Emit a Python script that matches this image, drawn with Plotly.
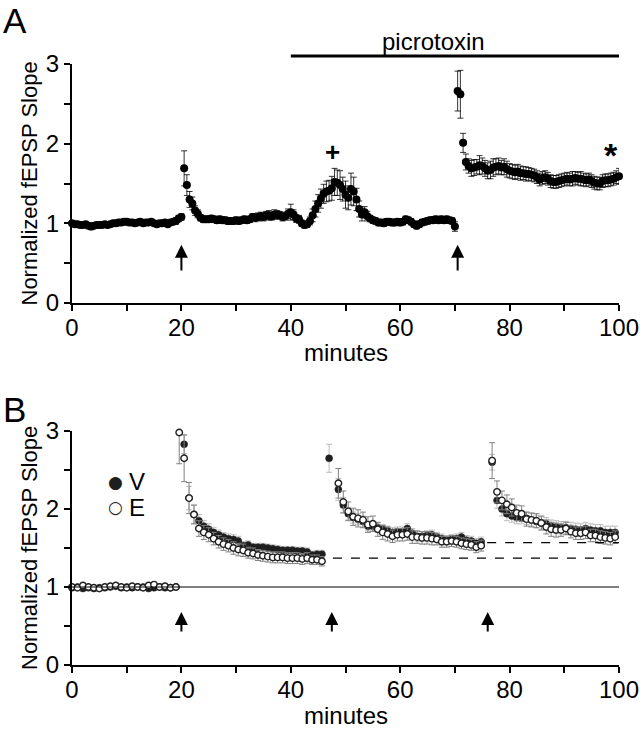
import plotly.graph_objects as go

FONT = "Liberation Sans, Arial, sans-serif"

# ---------------- Panel A data (0.5-min sampling) ----------------
a_minutes = [i * 0.5 for i in range(201)]
a_slope = [
    # 0 - 19.5
    1.00, 0.99, 0.99, 0.98, 0.98, 0.99, 0.97, 0.96, 0.97, 0.98,
    0.98, 0.98, 0.99, 0.98, 0.99, 1.00, 1.00, 1.01, 1.01, 1.02,
    1.02, 1.01, 1.01, 1.00, 1.01, 1.02, 1.00, 1.01, 1.01, 1.02,
    1.00, 0.99, 1.00, 1.00, 1.01, 0.99, 1.01, 1.02, 1.03, 1.06,
    # 20 - 24
    1.08, 1.69, 1.48, 1.30, 1.25, 1.16, 1.12, 1.07, 1.05,
    # 24.5 - 32.5
    1.05, 1.05, 1.06, 1.05, 1.04, 1.05, 1.04, 1.04, 1.03, 1.03,
    1.03, 1.04, 1.03, 1.04, 1.05, 1.04, 1.05,
    # 33 - 42.5
    1.08, 1.07, 1.08, 1.09, 1.08, 1.10, 1.10, 1.09, 1.11, 1.11,
    1.10, 1.08, 1.09, 1.12, 1.14, 1.11, 1.06, 1.05, 1.00, 0.98,
    # 43 - 54.5
    0.99, 1.03, 1.10, 1.18, 1.25, 1.31, 1.37, 1.40, 1.41, 1.44,
    1.52, 1.51, 1.48, 1.43, 1.36, 1.32, 1.43, 1.40, 1.30, 1.18,
    1.11, 1.14, 1.09, 1.06,
    # 55 - 70
    1.04, 1.03, 1.01, 1.01, 1.00, 1.02, 1.02, 1.01, 1.01, 1.02,
    1.01, 1.02, 1.05, 1.04, 1.02, 0.99, 0.97, 0.99, 1.01, 1.02,
    1.03, 1.04, 1.04, 1.05, 1.04, 1.05, 1.04, 1.05, 1.04, 1.03,
    0.96,
    # 70.5 - 100
    2.66, 2.62, 2.01, 1.77, 1.72, 1.69, 1.70, 1.71, 1.73, 1.72,
    1.69, 1.66, 1.67, 1.70, 1.71, 1.72, 1.70, 1.71, 1.68, 1.66,
    1.65, 1.64, 1.65, 1.63, 1.63, 1.62, 1.62, 1.61, 1.60, 1.58,
    1.55, 1.57, 1.58, 1.56, 1.53, 1.52, 1.52, 1.53, 1.54, 1.55,
    1.56, 1.55, 1.56, 1.57, 1.56, 1.56, 1.55, 1.54, 1.55, 1.53,
    1.51, 1.50, 1.50, 1.53, 1.54, 1.54, 1.55, 1.56, 1.58, 1.59,
]
a_sem = [
    0.03, 0.03, 0.03, 0.03, 0.03, 0.03, 0.03, 0.04, 0.03, 0.03,
    0.03, 0.03, 0.03, 0.03, 0.03, 0.03, 0.03, 0.03, 0.03, 0.03,
    0.03, 0.03, 0.03, 0.03, 0.03, 0.03, 0.03, 0.03, 0.03, 0.03,
    0.03, 0.03, 0.03, 0.03, 0.03, 0.03, 0.03, 0.03, 0.04, 0.04,
    0.04, 0.22, 0.13, 0.10, 0.08, 0.06, 0.05, 0.04, 0.04,
    0.04, 0.04, 0.04, 0.04, 0.04, 0.04, 0.04, 0.04, 0.04, 0.04,
    0.04, 0.04, 0.04, 0.04, 0.04, 0.04, 0.04,
    0.04, 0.05, 0.05, 0.05, 0.05, 0.05, 0.06, 0.05, 0.06, 0.05,
    0.05, 0.05, 0.05, 0.06, 0.10, 0.06, 0.05, 0.05, 0.04, 0.04,
    0.04, 0.05, 0.08, 0.10, 0.11, 0.12, 0.12, 0.13, 0.13, 0.15,
    0.17, 0.16, 0.18, 0.15, 0.17, 0.15, 0.20, 0.18, 0.14, 0.10,
    0.08, 0.07, 0.06, 0.04,
    0.04, 0.04, 0.04, 0.04, 0.04, 0.04, 0.04, 0.04, 0.04, 0.04,
    0.04, 0.04, 0.04, 0.04, 0.04, 0.04, 0.04, 0.04, 0.04, 0.04,
    0.04, 0.04, 0.04, 0.04, 0.04, 0.04, 0.04, 0.04, 0.04, 0.04,
    0.06,
    0.25, 0.30, 0.12, 0.10, 0.09, 0.10, 0.10, 0.09, 0.12, 0.10,
    0.10, 0.10, 0.11, 0.11, 0.10, 0.10, 0.09, 0.10, 0.10, 0.09,
    0.09, 0.09, 0.09, 0.09, 0.08, 0.09, 0.08, 0.08, 0.08, 0.08,
    0.08, 0.08, 0.08, 0.08, 0.08, 0.08, 0.08, 0.08, 0.08, 0.08,
    0.08, 0.08, 0.09, 0.08, 0.08, 0.09, 0.08, 0.08, 0.08, 0.08,
    0.08, 0.08, 0.08, 0.08, 0.08, 0.08, 0.08, 0.08, 0.08, 0.10,
]
a_tbs_minutes = [20, 70.5]
a_drug_start, a_drug_end = 40, 100

# ---------------- Panel B data ----------------
b_v_minutes = [
    0, 1, 2, 3, 4, 5, 6, 7, 8, 9, 10, 11, 12, 13, 14, 15, 16, 17, 18, 19,
    20.5, 21.4, 22.3, 23.2, 24.1, 25.0, 25.9, 26.8, 27.7, 28.6,
    29.5, 30.4, 31.3, 32.2, 33.1, 34.0, 34.9, 35.8, 36.7, 37.6,
    38.5, 39.4, 40.3, 41.2, 42.1, 43.0, 43.9, 44.8, 45.7,
    47.0, 48.7, 49.6, 50.5, 51.4, 52.3, 53.2, 54.1, 55.0, 55.9,
    56.8, 57.7, 58.6, 59.5, 60.4, 61.3, 62.2, 63.1, 64.0, 64.9,
    65.8, 66.7, 67.6, 68.5, 69.4, 70.3, 71.2, 72.1, 73.0, 73.9, 74.8,
    76.8, 77.7, 78.6, 79.5, 80.4, 81.3, 82.2, 83.1, 84.0, 84.9,
    85.8, 86.7, 87.6, 88.5, 89.4, 90.3, 91.2, 92.1, 93.0, 93.9,
    94.8, 95.7, 96.6, 97.5, 98.4, 99.3,
]
b_v_slope = [
    0.99, 1.00, 0.98, 0.99, 0.98, 0.99, 0.99, 1.00, 1.01, 0.99,
    1.00, 0.99, 1.00, 1.00, 0.98, 0.99, 1.00, 0.99, 0.99, 1.00,
    2.83, 2.14, 1.93, 1.85, 1.78, 1.74, 1.70, 1.67, 1.64, 1.62,
    1.61, 1.59, 1.53, 1.54, 1.51, 1.51, 1.51, 1.50, 1.49, 1.48,
    1.47, 1.47, 1.47, 1.46, 1.46, 1.45, 1.41, 1.42, 1.42,
    2.65, 2.25, 2.05, 1.94, 1.89, 1.87, 1.84, 1.78, 1.78, 1.76,
    1.74, 1.72, 1.70, 1.71, 1.71, 1.75, 1.69, 1.65, 1.65, 1.66,
    1.67, 1.64, 1.62, 1.60, 1.61, 1.62, 1.64, 1.60, 1.59, 1.56, 1.58,
    2.60, 2.11, 2.00, 1.94, 1.91, 1.89, 1.89, 1.88, 1.86, 1.84,
    1.82, 1.81, 1.78, 1.77, 1.76, 1.76, 1.75, 1.74, 1.73, 1.75,
    1.73, 1.72, 1.72, 1.70, 1.70, 1.70,
]
b_v_sem = [
    0.02, 0.02, 0.02, 0.02, 0.02, 0.02, 0.02, 0.02, 0.02, 0.02,
    0.02, 0.02, 0.02, 0.02, 0.02, 0.02, 0.02, 0.02, 0.02, 0.02,
    0.12, 0.15, 0.12, 0.08, 0.07, 0.07, 0.06, 0.06, 0.06, 0.06,
    0.06, 0.06, 0.05, 0.05, 0.05, 0.05, 0.05, 0.05, 0.05, 0.05,
    0.05, 0.05, 0.05, 0.05, 0.05, 0.05, 0.05, 0.05, 0.05,
    0.18, 0.14, 0.10, 0.08, 0.07, 0.07, 0.07, 0.06, 0.06, 0.06,
    0.06, 0.06, 0.06, 0.06, 0.06, 0.06, 0.06, 0.06, 0.06, 0.06,
    0.06, 0.06, 0.06, 0.06, 0.06, 0.06, 0.06, 0.06, 0.06, 0.06, 0.06,
    0.10, 0.10, 0.09, 0.09, 0.08, 0.08, 0.08, 0.08, 0.08, 0.08,
    0.08, 0.08, 0.08, 0.08, 0.08, 0.08, 0.08, 0.08, 0.08, 0.08,
    0.08, 0.08, 0.08, 0.08, 0.08, 0.08,
]
b_e_minutes = [
    0, 1, 2, 3, 4, 5, 6, 7, 8, 9, 10, 11, 12, 13, 14, 15, 16, 17, 18, 19,
    19.6, 20.5, 21.4, 22.3, 23.2, 24.1, 25.0, 25.9, 26.8, 27.7,
    28.6, 29.5, 30.4, 31.3, 32.2, 33.1, 34.0, 34.9, 35.8, 36.7,
    37.6, 38.5, 39.4, 40.3, 41.2, 42.1, 43.0, 43.9, 44.8, 45.7,
    48.7, 49.6, 50.5, 51.4, 52.3, 53.2, 54.1, 55.0, 55.9, 56.8,
    57.7, 58.6, 59.5, 60.4, 61.3, 62.2, 63.1, 64.0, 64.9, 65.8,
    66.7, 67.6, 68.5, 69.4, 70.3, 71.2, 72.1, 73.0, 73.9, 74.8,
    76.8, 77.7, 78.6, 79.5, 80.4, 81.3, 82.2, 83.1, 84.0, 84.9,
    85.8, 86.7, 87.6, 88.5, 89.4, 90.3, 91.2, 92.1, 93.0, 93.9,
    94.8, 95.7, 96.6, 97.5, 98.4, 99.3,
]
b_e_slope = [
    1.00, 0.99, 1.02, 1.00, 0.99, 0.98, 1.00, 1.01, 1.02, 1.00,
    0.99, 1.01, 1.00, 0.99, 1.02, 1.03, 1.00, 1.01, 0.99, 1.00,
    2.98, 2.65, 2.14, 1.93, 1.75, 1.70, 1.67, 1.62, 1.58, 1.55,
    1.53, 1.50, 1.48, 1.47, 1.44, 1.43, 1.41, 1.40, 1.39, 1.38,
    1.38, 1.38, 1.37, 1.37, 1.37, 1.36, 1.37, 1.35, 1.35, 1.33,
    2.33, 2.09, 1.97, 1.90, 1.88, 1.86, 1.80, 1.81, 1.74, 1.70,
    1.68, 1.65, 1.67, 1.67, 1.68, 1.64, 1.64, 1.63, 1.63, 1.62,
    1.61, 1.58, 1.58, 1.59, 1.58, 1.56, 1.55, 1.54, 1.51, 1.53,
    2.62, 2.22, 2.11, 2.06, 2.02, 1.95, 1.94, 1.87, 1.86, 1.85,
    1.82, 1.77, 1.74, 1.73, 1.73, 1.75, 1.71, 1.69, 1.69, 1.70,
    1.66, 1.66, 1.64, 1.63, 1.62, 1.64,
]
b_e_sem = [
    0.03, 0.03, 0.03, 0.03, 0.03, 0.03, 0.03, 0.03, 0.03, 0.03,
    0.03, 0.03, 0.03, 0.03, 0.03, 0.03, 0.03, 0.03, 0.03, 0.03,
    0.40, 0.30, 0.20, 0.12, 0.10, 0.09, 0.09, 0.08, 0.08, 0.08,
    0.08, 0.08, 0.08, 0.08, 0.07, 0.07, 0.07, 0.07, 0.07, 0.07,
    0.07, 0.07, 0.07, 0.07, 0.07, 0.07, 0.07, 0.06, 0.06, 0.06,
    0.19, 0.14, 0.12, 0.11, 0.11, 0.10, 0.10, 0.10, 0.09, 0.09,
    0.09, 0.08, 0.08, 0.08, 0.08, 0.08, 0.08, 0.08, 0.08, 0.08,
    0.07, 0.07, 0.07, 0.07, 0.07, 0.07, 0.07, 0.07, 0.07, 0.07,
    0.23, 0.14, 0.12, 0.12, 0.11, 0.10, 0.10, 0.09, 0.09, 0.09,
    0.09, 0.09, 0.09, 0.09, 0.08, 0.08, 0.08, 0.08, 0.08, 0.08,
    0.08, 0.08, 0.08, 0.08, 0.08, 0.08,
]
b_tbs_minutes = [20, 47.5, 76]
b_dash_levels = [1.37, 1.57]
b_dash_starts = [47.7, 75.9]
b_dash_ends = [99.3, 100]
legend_labels = ["V", "E"]

# ---------------- figure ----------------
V_COLOR = "#1e1e1e"
fig = go.Figure()

fig.add_trace(go.Scatter(
    x=a_minutes, y=a_slope, mode="markers", xaxis="x", yaxis="y",
    marker=dict(size=8, color="black"),
    error_y=dict(type="data", array=a_sem, color="black", thickness=0.8, width=3),
    cliponaxis=False, showlegend=False,
))

fig.add_trace(go.Scatter(
    x=b_v_minutes, y=b_v_slope, mode="markers", xaxis="x2", yaxis="y2", name="V",
    marker=dict(size=7, color=V_COLOR, line=dict(color=V_COLOR, width=0.5)),
    error_y=dict(type="data", array=b_v_sem, color="#bdbdbd", thickness=1, width=3),
    cliponaxis=False, showlegend=False,
))
fig.add_trace(go.Scatter(
    x=b_e_minutes, y=b_e_slope, mode="markers", xaxis="x2", yaxis="y2", name="E",
    marker=dict(size=6.5, color="white", line=dict(color=V_COLOR, width=1.4)),
    error_y=dict(type="data", array=b_e_sem, color="#808080", thickness=1, width=3),
    cliponaxis=False, showlegend=False,
))

TICK_FONT = dict(size=24, family=FONT, color="black")
axis_common = dict(
    showline=True, linecolor="black", linewidth=2, ticks="outside", ticklen=6,
    tickwidth=2, tickcolor="black", showgrid=False, zeroline=False,
    tickfont=TICK_FONT, automargin=False,
)
xax = dict(axis_common, range=[0, 100], tickvals=[0, 20, 40, 60, 80, 100], ticklabelstandoff=-4,
           minor=dict(dtick=10, ticks="outside", ticklen=6, tickwidth=2, tickcolor="black"))
yax = dict(axis_common, range=[0, 3], tickvals=[0, 1, 2, 3], ticklabelstandoff=0,
           minor=dict(dtick=0.5, ticks="outside", ticklen=6, tickwidth=2, tickcolor="black"))

W, H = 640, 730
xdom = [72 / W, 619 / W]
fig.update_layout(
    width=W, height=H, margin=dict(l=0, r=0, t=0, b=0),
    paper_bgcolor="white", plot_bgcolor="white",
    font=dict(family=FONT, color="black"),
    xaxis=dict(xax, domain=xdom, anchor="y"),
    yaxis=dict(yax, domain=[1 - 303 / H, 1 - 64 / H], anchor="x"),
    xaxis2=dict(xax, domain=xdom, anchor="y2"),
    yaxis2=dict(yax, domain=[1 - 665 / H, 1 - 431 / H], anchor="x2"),
    showlegend=False,
)

shapes = []
ann = []
# axis titles
YTITLE = "Normalized fEPSP Slope"
for yc in [(64 + 303) / 2, (431 + 665) / 2]:
    ann.append(dict(text=YTITLE, xref="paper", yref="paper", x=29 / W, y=1 - yc / H,
                    textangle=-90, xanchor="center", yanchor="middle", showarrow=False,
                    font=dict(size=22, family=FONT)))
for xr, ypx in [("x", 352), ("x2", 715)]:
    ann.append(dict(text="minutes", xref=xr, yref="paper", x=50, y=1 - ypx / H,
                    xanchor="center", yanchor="middle", showarrow=False, font=TICK_FONT))
# picrotoxin bar
shapes.append(dict(type="line", xref="x", yref="paper", x0=a_drug_start, x1=a_drug_end,
                   y0=1 - 56 / H, y1=1 - 56 / H, line=dict(color="black", width=3)))
ann.append(dict(text="picrotoxin", xref="x", yref="paper", x=66, y=1 - 41 / H,
                xanchor="center", yanchor="middle", showarrow=False,
                font=dict(size=24, family=FONT)))
ann.append(dict(text="<b>+</b>", xref="x", yref="y", x=47.7, y=1.9,
                xanchor="center", yanchor="middle", showarrow=False,
                font=dict(size=26, family=FONT)))
ann.append(dict(text="<b>*</b>", xref="x", yref="y", x=98.5, y=1.86,
                xanchor="center", yanchor="middle", showarrow=False,
                font=dict(size=34, family=FONT)))
for t in a_tbs_minutes:
    ann.append(dict(text="", x=t, y=0.73, ax=t, ay=0.39, xref="x", yref="y", axref="x", ayref="y",
                    showarrow=True, arrowhead=2, arrowsize=1.3, arrowwidth=2, arrowcolor="black"))
for t in b_tbs_minutes:
    ann.append(dict(text="", x=t, y=0.68, ax=t, ay=0.41, xref="x2", yref="y2", axref="x2", ayref="y2",
                    showarrow=True, arrowhead=2, arrowsize=1.3, arrowwidth=2, arrowcolor="black"))
# panel B reference lines
shapes.append(dict(type="line", xref="x2", yref="y2", x0=0, x1=100, y0=1, y1=1,
                   line=dict(color="black", width=1)))
for lvl, s, e in zip(b_dash_levels, b_dash_starts, b_dash_ends):
    shapes.append(dict(type="line", xref="x2", yref="y2", x0=s, x1=e, y0=lvl, y1=lvl,
                       line=dict(color="black", width=1.3, dash="dash")))
# legend (panel B), built from annotations
legend_glyphs = ["\u25cf", "\u25cb"]
for i, (g, lab) in enumerate(zip(legend_glyphs, legend_labels)):
    yy = 1 - (482 + 25 * i) / H
    ann.append(dict(text=g, xref="paper", yref="paper", x=115 / W, y=yy,
                    xanchor="center", yanchor="middle", showarrow=False,
                    font=dict(size=17, family="DejaVu Sans", color=V_COLOR)))
    ann.append(dict(text=lab, xref="paper", yref="paper", x=127 / W, y=yy,
                    xanchor="left", yanchor="middle", showarrow=False,
                    font=dict(size=24, family=FONT)))
# panel letters
ann.append(dict(text="A", xref="paper", yref="paper", x=1 / W, y=1 - 20 / H,
                xanchor="left", yanchor="middle", showarrow=False,
                font=dict(size=35, family=FONT)))
ann.append(dict(text="B", xref="paper", yref="paper", x=1 / W, y=1 - 409 / H,
                xanchor="left", yanchor="middle", showarrow=False,
                font=dict(size=35, family=FONT)))

fig.update_layout(shapes=shapes, annotations=ann)
fig.write_html("out.html", config={"displayModeBar": False},
               post_script="document.body.style.margin='0px';document.body.style.overflow='hidden';")
